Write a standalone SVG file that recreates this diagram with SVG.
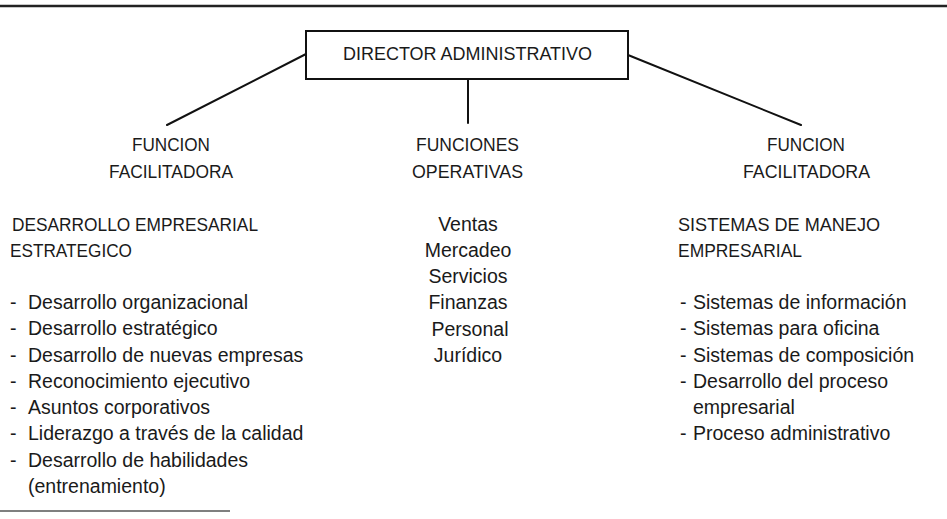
<svg xmlns="http://www.w3.org/2000/svg" width="947" height="519" viewBox="0 0 947 519">
<style>
text{font-family:"Liberation Sans",Arial,sans-serif;fill:#1a1a1a}
.cap{font-size:19px}
.low{font-size:19.5px}
.mid{text-anchor:middle}
.ln{stroke:#111;stroke-width:2;fill:none;stroke-linecap:round}
.rule{stroke:#222;stroke-width:2.5;fill:none}
</style>
<rect width="947" height="519" fill="#fff"/>
<line class="rule" x1="0" y1="6" x2="947" y2="6"/>
<line x1="0" y1="511" x2="230" y2="511" stroke="#555" stroke-width="1.5"/>
<g id="connectors">
<line class="ln" x1="306" y1="54" x2="167" y2="125"/>
<line class="ln" x1="468" y1="79" x2="468" y2="123" stroke-width="1.6"/>
<line class="ln" x1="628" y1="55" x2="801" y2="125"/>
</g>
<g id="director">
<rect x="306" y="31" width="322" height="48" fill="#fff" stroke="#111" stroke-width="2"/>
<text class="cap mid" x="467.5" y="59.5" textLength="249" lengthAdjust="spacingAndGlyphs">DIRECTOR ADMINISTRATIVO</text>
</g>
<g id="funcion-facilitadora-izq">
<text class="cap mid" x="171" y="151" textLength="78" lengthAdjust="spacingAndGlyphs">FUNCION</text>
<text class="cap mid" x="171" y="178" textLength="124" lengthAdjust="spacingAndGlyphs">FACILITADORA</text>
<text class="cap" x="12" y="231" textLength="246" lengthAdjust="spacingAndGlyphs">DESARROLLO EMPRESARIAL</text>
<text class="cap" x="10" y="257" textLength="122" lengthAdjust="spacingAndGlyphs">ESTRATEGICO</text>
<text class="low" x="10" y="309">-<tspan x="28">Desarrollo organizacional</tspan></text>
<text class="low" x="10" y="335">-<tspan x="28">Desarrollo estratégico</tspan></text>
<text class="low" x="10" y="361.5">-<tspan x="28">Desarrollo de nuevas empresas</tspan></text>
<text class="low" x="10" y="388">-<tspan x="28">Reconocimiento ejecutivo</tspan></text>
<text class="low" x="10" y="414">-<tspan x="28">Asuntos corporativos</tspan></text>
<text class="low" x="10" y="440">-<tspan x="28">Liderazgo a través de la calidad</tspan></text>
<text class="low" x="10" y="467">-<tspan x="28">Desarrollo de habilidades</tspan></text>
<text class="low" x="28" y="493">(entrenamiento)</text>
</g>
<g id="funciones-operativas">
<text class="cap mid" x="467.5" y="151" textLength="103" lengthAdjust="spacingAndGlyphs">FUNCIONES</text>
<text class="cap mid" x="467.5" y="178" textLength="111" lengthAdjust="spacingAndGlyphs">OPERATIVAS</text>
<text class="low mid" x="468" y="231">Ventas</text>
<text class="low mid" x="468" y="257">Mercadeo</text>
<text class="low mid" x="468" y="283">Servicios</text>
<text class="low mid" x="468" y="309">Finanzas</text>
<text class="low mid" x="470" y="335.5">Personal</text>
<text class="low mid" x="468" y="361.5">Jurídico</text>
</g>
<g id="funcion-facilitadora-der">
<text class="cap mid" x="806" y="151" textLength="78" lengthAdjust="spacingAndGlyphs">FUNCION</text>
<text class="cap mid" x="806.5" y="178" textLength="127" lengthAdjust="spacingAndGlyphs">FACILITADORA</text>
<text class="cap" x="678" y="231" textLength="202" lengthAdjust="spacingAndGlyphs">SISTEMAS DE MANEJO</text>
<text class="cap" x="678" y="257" textLength="124" lengthAdjust="spacingAndGlyphs">EMPRESARIAL</text>
<text class="low" x="680" y="309">-<tspan x="693">Sistemas de información</tspan></text>
<text class="low" x="680" y="335">-<tspan x="693">Sistemas para oficina</tspan></text>
<text class="low" x="680" y="361.5">-<tspan x="693">Sistemas de composición</tspan></text>
<text class="low" x="680" y="388">-<tspan x="693">Desarrollo del proceso</tspan></text>
<text class="low" x="693" y="414">empresarial</text>
<text class="low" x="680" y="440">-<tspan x="693">Proceso administrativo</tspan></text>
</g>
</svg>
